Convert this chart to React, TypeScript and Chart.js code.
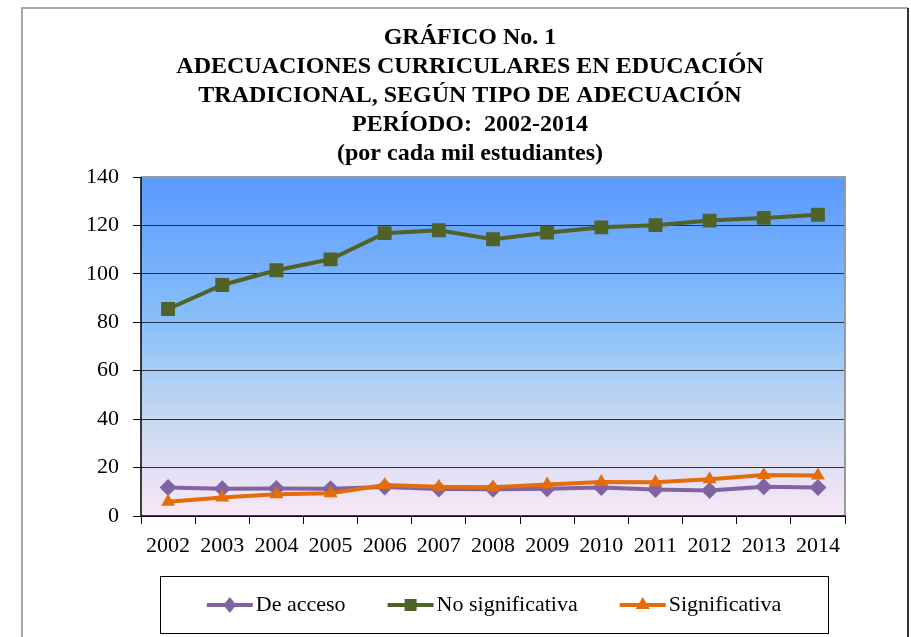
import React, { useEffect, useRef } from 'react';
import { Chart, registerables } from 'chart.js';

Chart.register(...registerables);

const titleLines = [
  'GRÁFICO No. 1',
  'ADECUACIONES CURRICULARES EN EDUCACIÓN',
  'TRADICIONAL, SEGÚN TIPO DE ADECUACIÓN',
  'PERÍODO:  2002-2014',
  '(por cada mil estudiantes)',
];

const years = ['2002', '2003', '2004', '2005', '2006', '2007', '2008', '2009', '2010', '2011', '2012', '2013', '2014'];

const deAcceso = [11.8, 11.3, 11.4, 11.3, 12.0, 11.1, 11.0, 11.3, 11.8, 10.9, 10.5, 12.1, 11.8];
const noSignificativa = [85.5, 95.4, 101.5, 106.0, 116.8, 118.0, 114.3, 117.0, 119.2, 120.1, 122.0, 123.1, 124.4];
const significativa = [5.9, 7.6, 9.0, 9.4, 12.8, 12.1, 11.9, 13.0, 14.0, 13.9, 15.2, 16.9, 16.7];

const yMin = 0;
const yMax = 140;
const yStep = 20;

const SERIF = '"Liberation Serif", "Times New Roman", serif';

const decorPlugin = {
  id: 'decor',
  beforeDraw(chart: any) {
    const { ctx, chartArea } = chart;
    const { left, top, right, bottom } = chartArea;
    ctx.save();
    const g = ctx.createLinearGradient(0, top, 0, bottom);
    g.addColorStop(0, '#5a99fe');
    g.addColorStop(0.45, '#8cc2fa');
    g.addColorStop(0.72, '#c9d9f0');
    g.addColorStop(1, '#f8e7f7');
    ctx.fillStyle = g;
    ctx.fillRect(left, top, right - left, bottom - top);
    ctx.restore();
  },
  afterDatasetsDraw(chart: any) {
    const { ctx, chartArea } = chart;
    const { left, top, right, bottom } = chartArea;
    ctx.save();
    ctx.strokeStyle = '#9a9a9a';
    ctx.lineWidth = 2;
    ctx.beginPath();
    ctx.moveTo(left, top);
    ctx.lineTo(right, top);
    ctx.lineTo(right, bottom);
    ctx.stroke();
    ctx.strokeStyle = '#000';
    ctx.lineWidth = 1.5;
    ctx.beginPath();
    ctx.moveTo(left, top);
    ctx.lineTo(left, bottom);
    ctx.lineTo(right, bottom);
    ctx.stroke();
    ctx.restore();
  },
  afterDraw(chart: any) {
    const { ctx } = chart;
    ctx.save();
    // outer chart border
    ctx.lineWidth = 2;
    ctx.strokeStyle = '#a6a6a6';
    ctx.beginPath();
    ctx.moveTo(22, 640);
    ctx.lineTo(22, 8);
    ctx.lineTo(908, 8);
    ctx.stroke();
    ctx.strokeStyle = '#333';
    ctx.beginPath();
    ctx.moveTo(908, 8);
    ctx.lineTo(908, 640);
    ctx.stroke();

    // title
    ctx.fillStyle = '#000';
    ctx.font = `bold 24px ${SERIF}`;
    ctx.textAlign = 'center';
    ctx.textBaseline = 'middle';
    titleLines.forEach((line, i) => {
      ctx.fillText(line, 470, 38 + i * 29);
    });

    // legend box
    const bx = 160, by = 576, bw = 668, bh = 57;
    ctx.lineWidth = 1;
    ctx.strokeStyle = '#000';
    ctx.strokeRect(bx + 0.5, by + 0.5, bw, bh);

    ctx.font = `22px ${SERIF}`;
    const lineLen = 46;
    const textGap = 3;
    const itemGap = 42;
    const items = chart.data.datasets.map((ds: any) => ({
      label: ds.label,
      color: ds.borderColor,
      style: ds.pointStyle,
      w: lineLen + textGap + ctx.measureText(ds.label).width,
    }));
    const total = items.reduce((s: number, it: any) => s + it.w, 0) + itemGap * (items.length - 1);
    let x = bx + (bw - total) / 2;
    const cy = by + bh / 2 + 0.5;
    items.forEach((it: any) => {
      ctx.strokeStyle = it.color;
      ctx.lineWidth = 4;
      ctx.beginPath();
      ctx.moveTo(x, cy);
      ctx.lineTo(x + lineLen, cy);
      ctx.stroke();
      ctx.fillStyle = it.color;
      const mx = x + lineLen / 2;
      ctx.beginPath();
      if (it.style === 'rect') {
        ctx.rect(mx - 6, cy - 6, 12, 12);
      } else if (it.style === 'triangle') {
        ctx.moveTo(mx, cy - 8);
        ctx.lineTo(mx + 7, cy + 4);
        ctx.lineTo(mx - 7, cy + 4);
        ctx.closePath();
      } else {
        ctx.moveTo(mx, cy - 8);
        ctx.lineTo(mx + 6.5, cy);
        ctx.lineTo(mx, cy + 8);
        ctx.lineTo(mx - 6.5, cy);
        ctx.closePath();
      }
      ctx.fill();
      ctx.fillStyle = '#000';
      ctx.textBaseline = 'middle';
      ctx.textAlign = 'left';
      ctx.fillText(it.label, x + lineLen + textGap, cy);
      x += it.w + itemGap;
    });
    ctx.restore();
  },
};

export default function App() {
  const ref = useRef<HTMLCanvasElement | null>(null);

  useEffect(() => {
    document.body.style.margin = '0';
    const canvas = ref.current;
    if (!canvas) return;
    const chart = new Chart(canvas, {
      type: 'line',
      data: {
        labels: years,
        datasets: [
          {
            label: 'De acceso',
            data: deAcceso,
            borderColor: '#8064a2',
            backgroundColor: '#8064a2',
            borderWidth: 4,
            pointStyle: 'rectRot',
            pointRadius: 8.5,
            pointBorderWidth: 0,
            tension: 0,
            order: 2,
          },
          {
            label: 'No significativa',
            data: noSignificativa,
            borderColor: '#4f6228',
            backgroundColor: '#4f6228',
            borderWidth: 4,
            pointStyle: 'rect',
            pointRadius: 9.8,
            pointBorderWidth: 0,
            tension: 0,
            order: 3,
          },
          {
            label: 'Significativa',
            data: significativa,
            borderColor: '#e46c0a',
            backgroundColor: '#e46c0a',
            borderWidth: 4,
            pointStyle: 'triangle',
            pointRadius: 8,
            pointBorderWidth: 0,
            tension: 0,
            order: 1,
          },
        ],
      },
      options: {
        animation: false,
        responsive: false,
        maintainAspectRatio: false,
        layout: { padding: { left: 0, right: 66, top: 177, bottom: 0 } },
        plugins: {
          legend: { display: false },
          tooltip: { enabled: false },
          title: { display: false },
        },
        scales: {
          x: {
            type: 'category',
            offset: true,
            grid: {
              offset: true,
              drawOnChartArea: false,
              drawTicks: true,
              tickLength: 8,
              color: '#000',
            },
            border: { display: false },
            ticks: {
              color: '#000',
              font: { family: SERIF, size: 22 },
              padding: 9,
              maxRotation: 0,
              autoSkip: false,
            },
            afterFit(scale: any) {
              scale.height = 121;
            },
          },
          y: {
            min: yMin,
            max: yMax,
            ticks: {
              stepSize: yStep,
              color: '#000',
              font: { family: SERIF, size: 22 },
              padding: 14,
            },
            grid: {
              color: (c: any) => (c.tick && c.tick.value === yMax ? 'rgba(0,0,0,0)' : '#2a2f3a'),
              tickColor: '#000',
              tickLength: 8,
              lineWidth: 1,
            },
            border: { display: false },
            afterFit(scale: any) {
              scale.width = 141;
            },
          },
        },
      },
      plugins: [decorPlugin],
    });
    return () => chart.destroy();
  }, []);

  return (
    <div style={{ position: 'fixed', left: 0, top: 0, width: 911, height: 637, background: '#fff' }}>
      <canvas ref={ref} width={911} height={637} style={{ display: 'block', width: 911, height: 637 }} />
    </div>
  );
}
